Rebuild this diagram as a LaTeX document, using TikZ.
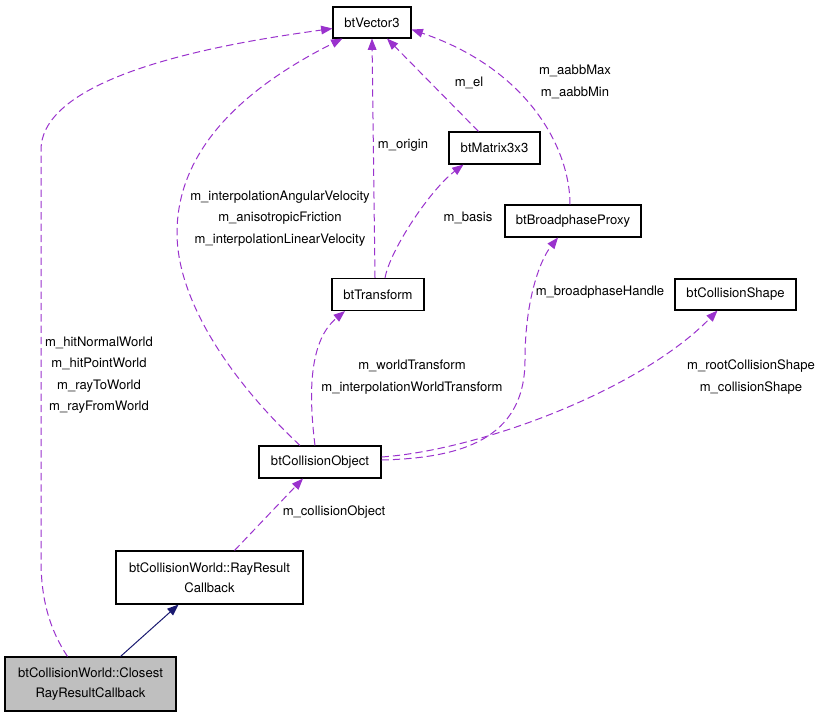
\documentclass[tikz,border=0pt]{standalone}
\usepackage{fontspec}
\setmainfont{TeX Gyre Heros}
\usepackage{xcolor}
\usepackage{tikz}
\usetikzlibrary{calc,arrows.meta}
\definecolor{member}{HTML}{9A32CD}
\definecolor{inherit}{HTML}{191970}
\definecolor{current}{HTML}{BFBFBF}
\newlength{\pxunit}
\setlength{\pxunit}{0.75pt}
\tikzset{
  cls/.style={draw=black, line width=0.8pt, fill=white, inner sep=0pt, align=center, font=\fontsize{9.8}{15}\selectfont},
  cur/.style={cls, fill=current},
  ref/.style={draw=member, line width=0.75pt, dash pattern=on 5.5pt off 3pt, -{Triangle[length=8.5pt,width=6.5pt]}},
  base/.style={draw=inherit, line width=0.75pt, -{Triangle[length=8.5pt,width=6.5pt]}},
  lab/.style={text=black, align=center, inner sep=0pt, font=\fontsize{9.8}{16}\selectfont},
}
\begin{document}
\begin{tikzpicture}[x=0.75pt, y=-0.75pt]
\useasboundingbox (0,0) rectangle (820,717);
\node[cls, minimum width=78\pxunit, minimum height=31\pxunit] (vec) at (372,22.5) {btVector3};
\node[cls, minimum width=91\pxunit, minimum height=32\pxunit] (mat) at (494.5,148) {btMatrix3x3};
\node[cls, minimum width=136\pxunit, minimum height=32\pxunit] (bpp) at (573,221) {btBroadphaseProxy};
\node[cls, minimum width=92\pxunit, minimum height=32\pxunit] (tra) at (378,294.5) {btTransform};
\node[cls, minimum width=121\pxunit, minimum height=31\pxunit] (shp) at (735.5,294.5) {btCollisionShape};
\node[cls, minimum width=122\pxunit, minimum height=32\pxunit] (obj) at (320,462) {btCollisionObject};
\node[cls, minimum width=187\pxunit, minimum height=53\pxunit] (rrc) at (209.5,577.5) {btCollisionWorld::RayResult\\Callback};
\node[cur, minimum width=171\pxunit, minimum height=54\pxunit] (crr) at (90.5,684) {btCollisionWorld::Closest\\RayResultCallback};
\draw[ref] ($(crr.north)+(-23,0)$) .. controls (50,630) and (41,600) .. (41,560) -- (41,150) .. controls (41,70) and (250,40) .. ($(vec.west)+(0,6)$);
\draw[ref] ($(obj.north)+(-20,0)$) .. controls (230,380) and (177,300) .. (177,233) .. controls (177,140) and (260,80) .. ($(vec.south west)+(10,0)$);
\draw[ref] ($(tra.north)+(-3,0)$) -- (vec.south);
\draw[ref] ($(mat.north)+(-16,0)$) -- ($(vec.south)+(15,0)$);
\draw[ref] ($(bpp.north)+(-3,0)$) .. controls (570,150) and (530,70) .. ($(vec.east)+(0,7)$);
\draw[ref] ($(tra.north)+(7,0)$) .. controls (390,250) and (430,190) .. ($(mat.south)+(-31,0)$);
\draw[ref] ($(obj.north)+(-5,0)$) .. controls (308,390) and (310,340) .. ($(tra.south)+(-33,0)$);
\draw[ref] ($(obj.east)+(0,-2)$) .. controls (460,458) and (525,440) .. (525,360) .. controls (525,300) and (540,260) .. ($(bpp.south)+(-15,0)$);
\draw[ref] ($(obj.east)+(0,-5)$) .. controls (480,450) and (640,390) .. ($(shp.south)+(-18,0)$);
\draw[ref] ($(rrc.north)+(25,0)$) -- ($(obj.south)+(-17,0)$);
\draw[base] ($(crr.north)+(30,0)$) -- ($(rrc.south)+(-31,0)$);
\node[lab] (lhit) at (99,375) {m\_hitNormalWorld\\m\_hitPointWorld\\m\_rayToWorld\\m\_rayFromWorld};
\node[lab] (lvel) at (280,218.5) {m\_interpolationAngularVelocity\\m\_anisotropicFriction\\m\_interpolationLinearVelocity};
\node[lab] (lorg) at (403,145) {m\_origin};
\node[lab] (lel) at (469,83) {m\_el};
\node[lab] (laabb) at (575,82) {m\_aabbMax\\m\_aabbMin};
\node[lab] (lbas) at (468,218) {m\_basis};
\node[lab] (lwt) at (412,377) {m\_worldTransform\\m\_interpolationWorldTransform};
\node[lab] (lbph) at (600,292) {m\_broadphaseHandle};
\node[lab] (lcs) at (751,377) {m\_rootCollisionShape\\m\_collisionShape};
\node[lab] (lco) at (334,512) {m\_collisionObject};
\end{tikzpicture}
\end{document}
